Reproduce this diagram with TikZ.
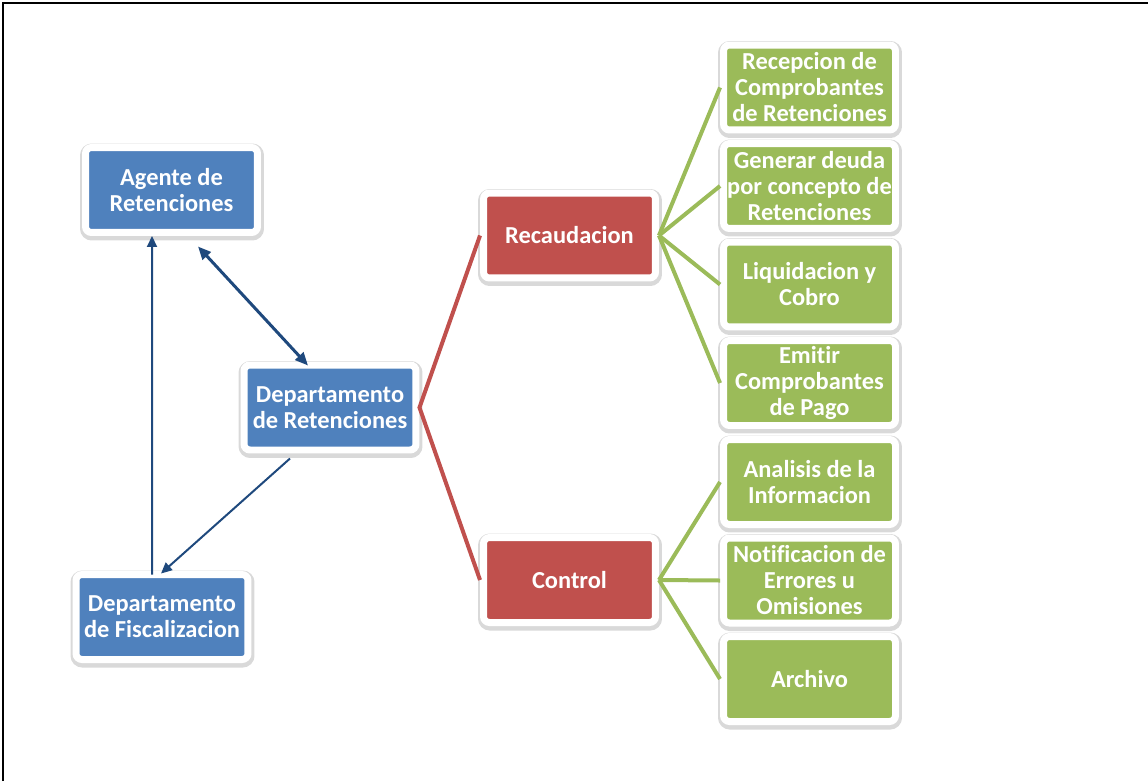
\documentclass[tikz,border=0pt]{standalone}
\usepackage{fontspec}
\setmainfont{Carlito}[Ligatures={NoCommon,NoContextual}]
\usetikzlibrary{arrows.meta,shadows}
\tikzset{
    %Define standard box and arrow tip
    box/.style={draw=white, line width=0.14cm, rounded corners=0.12cm, minimum width=3.44cm, minimum height=1.7cm, inner sep=0pt, text=white, align=center, font=\fontsize{13.9}{14.8}\selectfont\bfseries, drop shadow={opacity=0.15, draw=black, fill=black, line width=0.24cm, shadow xshift=0.01cm, shadow yshift=-0.04cm}},
    >={Triangle[length=0.22cm, width=0.2cm]}
}
\definecolor{deptblue}{RGB}{79,129,189}
\definecolor{arrowblue}{RGB}{31,73,125}
\definecolor{taskred}{RGB}{192,80,77}
\definecolor{taskgreen}{RGB}{155,187,89}

\begin{document}
\begin{tikzpicture}[x=0.02cm, y=-0.02cm]

	\useasboundingbox (0,0) rectangle (1148,781);
	\draw[line width=0.04cm] (3,781) -- (3,3) -- (1148,3);

	\node (agente) at (171.5, 190) [box, fill=deptblue] {Agente de\\Retenciones};
	\node (deptret) at (330, 407.5) [box, fill=deptblue] {Departamento\\de Retenciones};
	\node (fisc) at (162, 617) [box, fill=deptblue] {Departamento\\de Fiscalizacion};

	\node (recaud) at (569.5, 235.5) [box, fill=taskred] {Recaudacion};
	\node (control) at (569.5, 580) [box, fill=taskred] {Control};

	\node (recepcion) at (809.5, 87.5) [box, fill=taskgreen] {Recepcion de\\Comprobantes\\de Retenciones};
	\node (deuda) at (809.5, 186) [box, fill=taskgreen] {Generar deuda\\por concepto de\\Retenciones};
	\node (cobro) at (809.5, 284.5) [box, fill=taskgreen] {Liquidacion y\\Cobro};
	\node (emitir) at (809.5, 383) [box, fill=taskgreen] {Emitir\\Comprobantes\\de Pago};
	\node (analisis) at (809.5, 482) [box, fill=taskgreen] {Analisis de la\\Informacion};
	\node (notif) at (809.5, 580.5) [box, fill=taskgreen] {Notificacion de\\Errores u\\Omisiones};
	\node (archivo) at (809.5, 679) [box, fill=taskgreen] {Archivo};

	\draw[taskred, line width=0.08cm] (recaud.west) -- (deptret.east) -- (control.west);

	\draw[taskgreen, line width=0.08cm] (recaud.east) -- (recepcion.west);
	\draw[taskgreen, line width=0.08cm] (recaud.east) -- (deuda.west);
	\draw[taskgreen, line width=0.08cm] (recaud.east) -- (cobro.west);
	\draw[taskgreen, line width=0.08cm] (recaud.east) -- (emitir.west);
	\draw[taskgreen, line width=0.08cm] (control.east) -- (analisis.west);
	\draw[taskgreen, line width=0.08cm] (control.east) -- (notif.west);
	\draw[taskgreen, line width=0.08cm] (control.east) -- (archivo.west);

	\draw[arrowblue, line width=0.04cm, ->] ([xshift=-0.2cm, yshift=-0.07cm]fisc.north) -- ([xshift=-0.39cm]agente.south);
	\draw[arrowblue, line width=0.06cm, {Triangle[length=0.26cm, width=0.22cm]}-{Triangle[length=0.26cm, width=0.22cm]}] ([xshift=0.53cm, yshift=-0.21cm]agente.south) -- ([xshift=-0.44cm, yshift=-0.08cm]deptret.north);
	\draw[arrowblue, line width=0.04cm, ->] ([xshift=-0.8cm, yshift=-0.1cm]deptret.south) -- ([xshift=-0.02cm, yshift=-0.05cm]fisc.north);

\end{tikzpicture}
\end{document}
